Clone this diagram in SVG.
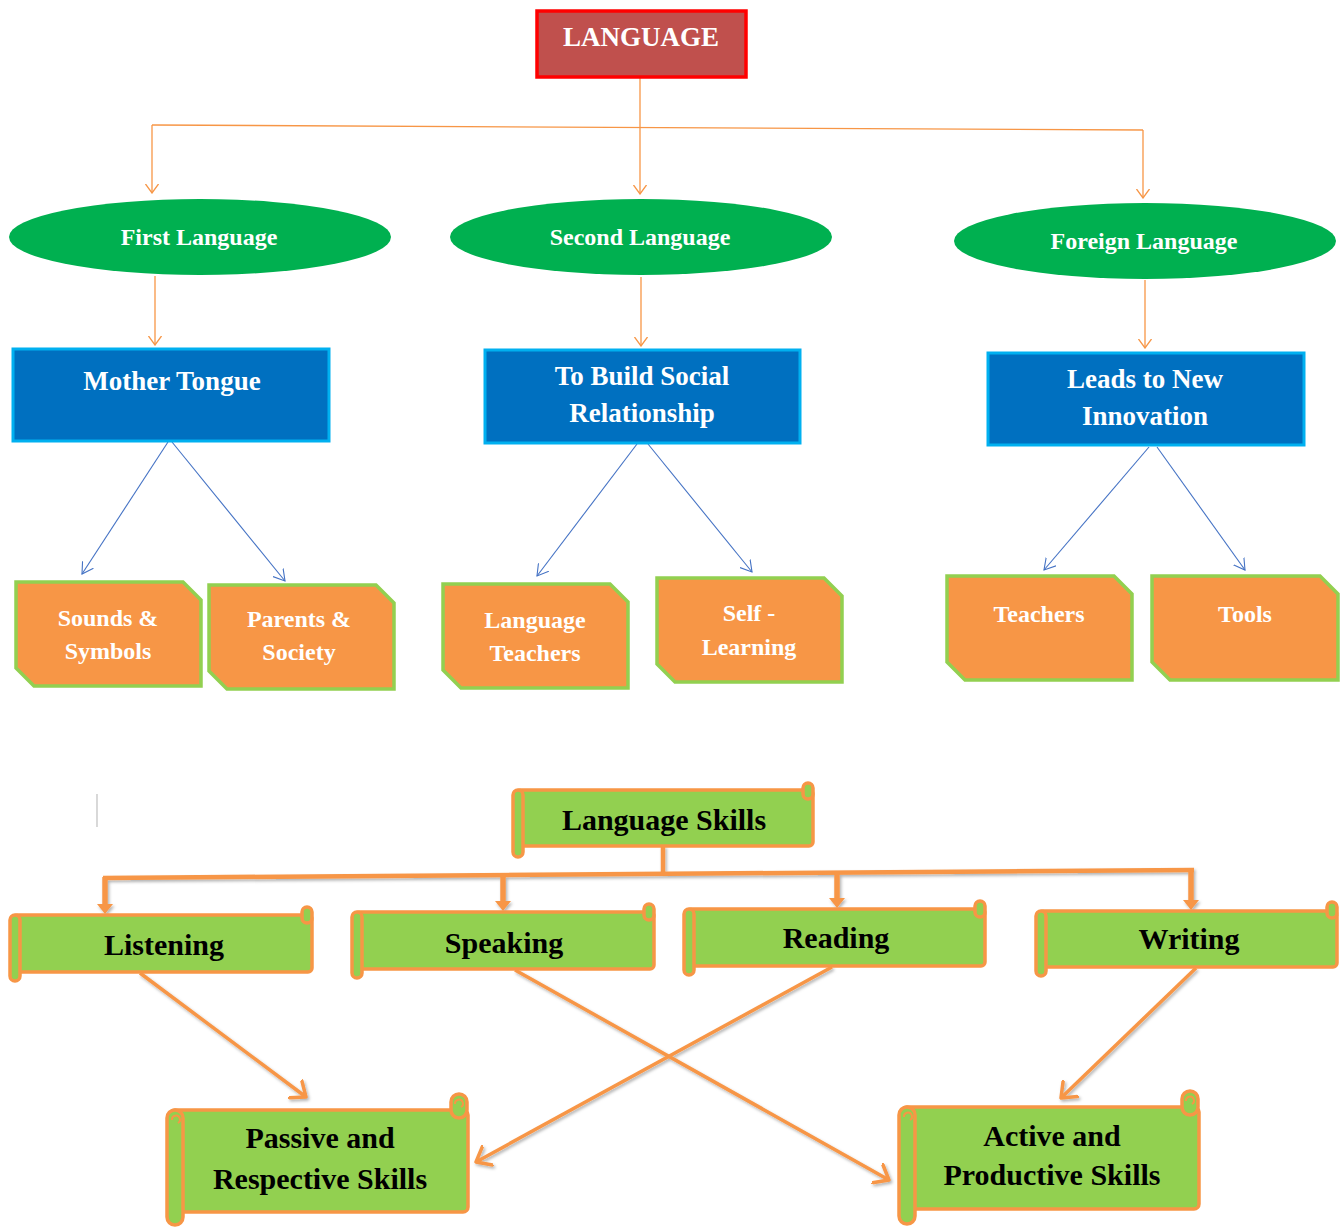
<svg xmlns="http://www.w3.org/2000/svg" width="1341" height="1227" viewBox="0 0 1341 1227">
<defs>
<style>
.t{font-family:"Liberation Serif","Times New Roman",serif;font-weight:bold;text-anchor:middle}
.w{fill:#FFFFFF}
.k{fill:#000000}
.ell{fill:#00B050}
.blue{fill:#0070C0;stroke:#00B0F0;stroke-width:3}
.snip{fill:#F79646;stroke:#92D050;stroke-width:3.5;stroke-linejoin:miter}
.scr{fill:#92D050;stroke:#F79646;stroke-width:3.5}
.thin{fill:none;stroke:#F79646;stroke-width:1.3}
.bl{fill:none;stroke:#4472C4;stroke-width:1.1}
.bus{fill:none;stroke:#F79646;stroke-width:4.5}
.drop{fill:none;stroke:#F79646;stroke-width:5.5}
.cross{fill:none;stroke:#F79646;stroke-width:3.5}
</style>
<marker id="aThin" viewBox="0 0 10 14" markerWidth="10" markerHeight="14" refX="9" refY="7" orient="auto" markerUnits="userSpaceOnUse">
<path d="M0,0.5 L9,7 L0,13.5" fill="none" stroke="#F79646" stroke-width="1.3"/>
</marker>
<marker id="aBlue" viewBox="0 0 12 14" markerWidth="12" markerHeight="14" refX="11" refY="7" orient="auto" markerUnits="userSpaceOnUse">
<path d="M0,0.5 L11,7 L0,13.5" fill="none" stroke="#4472C4" stroke-width="1.1"/>
</marker>
<marker id="aFill" viewBox="0 0 10 16" markerWidth="10" markerHeight="16" refX="2" refY="8" orient="auto" markerUnits="userSpaceOnUse">
<path d="M0,0 L10,8 L0,16 Z" fill="#F79646"/>
</marker>
<marker id="aOpen" viewBox="0 0 16 24" markerWidth="16" markerHeight="24" refX="14" refY="12" orient="auto" markerUnits="userSpaceOnUse">
<path d="M1,1.5 L14,12 L1,22.5" fill="none" stroke="#F79646" stroke-width="3.5" stroke-linecap="round" stroke-linejoin="round"/>
</marker>
<filter id="sh" x="-10%" y="-10%" width="120%" height="130%">
<feDropShadow dx="1.5" dy="2" stdDeviation="1.5" flood-color="#000000" flood-opacity="0.3"/>
</filter>
</defs>
<rect x="0" y="0" width="1341" height="1227" fill="#FFFFFF"/>

<g id="connectors">
<path class="thin" d="M640,77 L640,194" marker-end="url(#aThin)"/>
<path class="thin" d="M152,125 L1143,130"/>
<path class="thin" d="M152,125 L152,193" marker-end="url(#aThin)"/>
<path class="thin" d="M1143,130 L1143,198" marker-end="url(#aThin)"/>
<path class="thin" d="M155,276 L155,345" marker-end="url(#aThin)"/>
<path class="thin" d="M641,277 L641,346" marker-end="url(#aThin)"/>
<path class="thin" d="M1145,280 L1145,348" marker-end="url(#aThin)"/>
<path class="bl" d="M168,442 L82,574" marker-end="url(#aBlue)"/>
<path class="bl" d="M172,442 L285,581" marker-end="url(#aBlue)"/>
<path class="bl" d="M637,444 L537,576" marker-end="url(#aBlue)"/>
<path class="bl" d="M648,444 L752,572" marker-end="url(#aBlue)"/>
<path class="bl" d="M1149,447 L1044,570" marker-end="url(#aBlue)"/>
<path class="bl" d="M1157,447 L1245,570" marker-end="url(#aBlue)"/>
<g filter="url(#sh)">
<path class="bus" d="M663,846 L663,876"/>
<path class="bus" d="M103,878 L1194,870"/>
<path class="drop" d="M105,877 L105,906" marker-end="url(#aFill)"/>
<path class="drop" d="M503,875 L503,903" marker-end="url(#aFill)"/>
<path class="drop" d="M837,873 L837,900" marker-end="url(#aFill)"/>
<path class="drop" d="M1191,871 L1191,902" marker-end="url(#aFill)"/>
<path class="cross" d="M140,973 L306,1097" marker-end="url(#aOpen)"/>
<path class="cross" d="M515,970 L889,1180" marker-end="url(#aOpen)"/>
<path class="cross" d="M832,967 L476,1162" marker-end="url(#aOpen)"/>
<path class="cross" d="M1196,968 L1061,1098" marker-end="url(#aOpen)"/>
</g>
<line x1="97" y1="794" x2="97" y2="827" stroke="#BFBFBF" stroke-width="1.2"/>
</g>

<g id="language">
<rect x="537" y="11" width="209" height="66" fill="#C0504D" stroke="#FF0000" stroke-width="3.5"/>
<text class="t w" x="641" y="46" font-size="27">LANGUAGE</text>
</g>

<g id="first-language">
<ellipse class="ell" cx="200" cy="237" rx="191" ry="38"/>
<text class="t w" x="199" y="245" font-size="24">First Language</text>
</g>
<g id="second-language">
<ellipse class="ell" cx="641" cy="237" rx="191" ry="38"/>
<text class="t w" x="640" y="245" font-size="24">Second Language</text>
</g>
<g id="foreign-language">
<ellipse class="ell" cx="1145" cy="241" rx="191" ry="38"/>
<text class="t w" x="1144" y="249" font-size="24">Foreign Language</text>
</g>

<g id="mother-tongue">
<rect class="blue" x="13" y="349" width="316" height="92"/>
<text class="t w" x="172" y="390" font-size="27">Mother Tongue</text>
</g>
<g id="social-relationship">
<rect class="blue" x="485" y="350" width="315" height="93"/>
<text class="t w" x="642" y="385" font-size="27">To Build Social</text>
<text class="t w" x="642" y="422" font-size="27">Relationship</text>
</g>
<g id="new-innovation">
<rect class="blue" x="988" y="353" width="316" height="92"/>
<text class="t w" x="1145" y="388" font-size="27">Leads to New</text>
<text class="t w" x="1145" y="425" font-size="27">Innovation</text>
</g>

<g id="sounds-symbols">
<path class="snip" d="M16,582 L183,582 L201,600 L201,686 L34,686 L16,668 Z"/>
<text class="t w" x="108" y="626" font-size="24">Sounds &amp;</text>
<text class="t w" x="108" y="659" font-size="24">Symbols</text>
</g>
<g id="parents-society">
<path class="snip" d="M209,585 L376,585 L394,603 L394,689 L227,689 L209,671 Z"/>
<text class="t w" x="299" y="627" font-size="24">Parents &amp;</text>
<text class="t w" x="299" y="660" font-size="24">Society</text>
</g>
<g id="language-teachers">
<path class="snip" d="M443,584 L610,584 L628,602 L628,688 L461,688 L443,670 Z"/>
<text class="t w" x="535" y="628" font-size="24">Language</text>
<text class="t w" x="535" y="661" font-size="24">Teachers</text>
</g>
<g id="self-learning">
<path class="snip" d="M657,578 L824,578 L842,596 L842,682 L675,682 L657,664 Z"/>
<text class="t w" x="749" y="621" font-size="24">Self -</text>
<text class="t w" x="749" y="655" font-size="24">Learning</text>
</g>
<g id="teachers">
<path class="snip" d="M947,576 L1114,576 L1132,594 L1132,680 L965,680 L947,662 Z"/>
<text class="t w" x="1039" y="622" font-size="24">Teachers</text>
</g>
<g id="tools">
<path class="snip" d="M1152,576 L1320,576 L1338,594 L1338,680 L1170,680 L1152,662 Z"/>
<text class="t w" x="1245" y="622" font-size="24">Tools</text>
</g>

<g id="language-skills">
<rect class="scr" x="516" y="790" width="297" height="56" rx="4"/>
<rect class="scr" x="803" y="783" width="10" height="16" rx="5"/>
<rect class="scr" x="513" y="790" width="10" height="67" rx="5"/>
<text class="t k" x="664" y="830" font-size="30">Language Skills</text>
</g>
<g id="listening">
<rect class="scr" x="13" y="915" width="299" height="57" rx="4"/>
<rect class="scr" x="302" y="907" width="10" height="16" rx="5"/>
<rect class="scr" x="10" y="915" width="10" height="66" rx="5"/>
<text class="t k" x="164" y="955" font-size="30">Listening</text>
</g>
<g id="speaking">
<rect class="scr" x="355" y="912" width="299" height="57" rx="4"/>
<rect class="scr" x="644" y="904" width="10" height="16" rx="5"/>
<rect class="scr" x="352" y="912" width="10" height="66" rx="5"/>
<text class="t k" x="504" y="953" font-size="30">Speaking</text>
</g>
<g id="reading">
<rect class="scr" x="687" y="909" width="298" height="57" rx="4"/>
<rect class="scr" x="975" y="901" width="10" height="16" rx="5"/>
<rect class="scr" x="684" y="909" width="10" height="66" rx="5"/>
<text class="t k" x="836" y="948" font-size="30">Reading</text>
</g>
<g id="writing">
<rect class="scr" x="1039" y="911" width="298" height="56" rx="4"/>
<rect class="scr" x="1327" y="902" width="10" height="16" rx="5"/>
<rect class="scr" x="1036" y="911" width="10" height="65" rx="5"/>
<text class="t k" x="1189" y="949" font-size="30">Writing</text>
</g>
<g id="passive-skills">
<rect class="scr" x="170" y="1110" width="298" height="102" rx="5"/>
<rect class="scr" x="451" y="1094" width="16" height="24" rx="8"/>
<path d="M455,1104 a4,4 0 1 1 6,3" fill="none" stroke="#F79646" stroke-width="2"/>
<rect class="scr" x="167" y="1110" width="16" height="115" rx="8"/>
<path d="M172,1120 a4,4 0 1 1 6,3" fill="none" stroke="#F79646" stroke-width="2"/>
<text class="t k" x="320" y="1148" font-size="30">Passive and</text>
<text class="t k" x="320" y="1189" font-size="30">Respective Skills</text>
</g>
<g id="active-skills">
<rect class="scr" x="902" y="1107" width="297" height="102" rx="5"/>
<rect class="scr" x="1182" y="1091" width="16" height="24" rx="8"/>
<path d="M1186,1101 a4,4 0 1 1 6,3" fill="none" stroke="#F79646" stroke-width="2"/>
<rect class="scr" x="899" y="1107" width="16" height="117" rx="8"/>
<path d="M904,1117 a4,4 0 1 1 6,3" fill="none" stroke="#F79646" stroke-width="2"/>
<text class="t k" x="1052" y="1146" font-size="30">Active and</text>
<text class="t k" x="1052" y="1185" font-size="30">Productive Skills</text>
</g>
</svg>
